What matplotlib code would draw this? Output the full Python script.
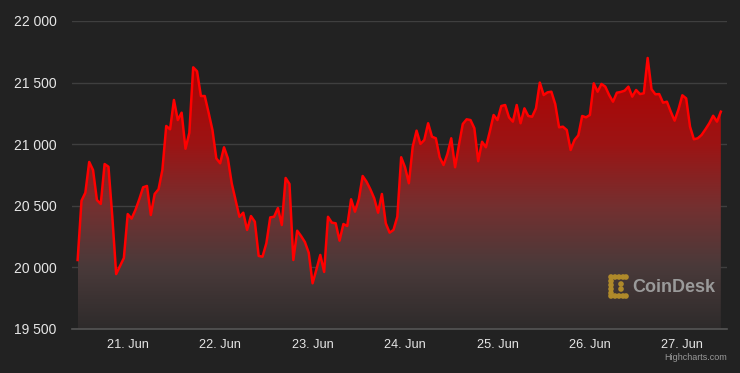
import numpy as np
import pandas as pd
import matplotlib
matplotlib.use("Agg")
import matplotlib.pyplot as plt
import matplotlib.dates as mdates
from matplotlib.colors import LinearSegmentedColormap
from matplotlib.patches import Circle

# hourly BTC price, 20 Jun 11:00 -> 27 Jun 10:00
start = "2022-06-20 11:00"
prices = [
    20060, 20541, 20606, 20856, 20790, 20547, 20515, 20839, 20817, 20411,
    19946, 20012, 20076, 20433, 20396, 20466, 20553, 20650, 20661, 20425,
    20596, 20634, 20791, 21148, 21121, 21359, 21196, 21256, 20963, 21093,
    21624, 21592, 21391, 21391, 21256, 21115, 20885, 20845, 20975, 20885,
    20683, 20547, 20411, 20444, 20304, 20417, 20371, 20093, 20087, 20196,
    20406, 20411, 20482, 20344, 20726, 20677, 20060, 20298, 20255, 20206,
    20119, 19871, 19984, 20101, 19963, 20411, 20363, 20358, 20217, 20352,
    20336, 20553, 20452, 20553, 20742, 20696, 20634, 20561, 20444, 20596,
    20358, 20282, 20304, 20411, 20894, 20813, 20683, 20980, 21110, 21002,
    21034, 21170, 21061, 21048, 20894, 20831, 20920, 21048, 20813, 20994,
    21164, 21202, 21196, 21130, 20862, 21020, 20975, 21101, 21237, 21196,
    21310, 21318, 21218, 21183, 21318, 21170, 21291, 21229, 21223, 21291,
    21500, 21399, 21421, 21426, 21326, 21137, 21142, 21115, 20953, 21034,
    21072, 21229, 21218, 21237, 21494, 21426, 21489, 21467, 21399, 21345,
    21418, 21424, 21434, 21467, 21386, 21440, 21407, 21413, 21700, 21446,
    21405, 21407, 21337, 21345, 21264, 21191, 21283, 21397, 21372, 21142,
    21040, 21048, 21075, 21121, 21170, 21231, 21183, 21264,
]
y_ticks = [19500, 20000, 20500, 21000, 21500, 22000]

BG = "#222222"
GRID = "#3f3f3f"
TXT = "#e6e6e6"

plt.rcParams["font.family"] = ["Liberation Sans", "DejaVu Sans"]

times = pd.date_range(start, periods=len(prices), freq="h")
x = mdates.date2num(times)
y = np.array(prices, dtype=float)

fig = plt.figure(figsize=(7.4, 3.73), dpi=100, facecolor=BG)
ax = fig.add_axes([72 / 740, 44 / 373, 655 / 740, 308 / 373])
ax.set_facecolor(BG)

x0 = mdates.date2num(pd.Timestamp("2022-06-20 09:32"))
x1 = mdates.date2num(pd.Timestamp("2022-06-27 11:36"))
ax.set_xlim(x0, x1)
ax.set_ylim(y_ticks[0], y_ticks[-1])

# gradient area fill, clipped to the area under the line
cmap = LinearSegmentedColormap.from_list("fade", [
    (0.00, "#2e2b2b"),
    (0.23, "#4a3a3a"),
    (0.45, "#743030"),
    (0.68, "#9c1414"),
    (1.00, "#b00000"),
])
grad = np.linspace(0, 1, 256).reshape(-1, 1)
im = ax.imshow(grad, cmap=cmap, origin="lower", aspect="auto",
               extent=[x[0], x[-1], y_ticks[0], y.max()], zorder=1)
poly = ax.fill_between(x, y, y_ticks[0], facecolor="none", edgecolor="none")
im.set_clip_path(poly.get_paths()[0], transform=ax.transData)

ax.plot(x, y, color="#ff0000", lw=1.8, zorder=3, solid_joinstyle="round")

ax.set_yticks(y_ticks)
ax.set_yticklabels([f"{v:,}".replace(",", " ") for v in y_ticks])
ax.grid(axis="y", color=GRID, lw=1, zorder=0)
ax.set_axisbelow(True)

ax.xaxis.set_major_locator(mdates.DayLocator())
ax.xaxis.set_major_formatter(mdates.DateFormatter("%d. %b"))
ax.tick_params(axis="both", length=0, colors=TXT)
ax.tick_params(axis="y", pad=11, labelsize=10)
ax.tick_params(axis="x", pad=7, labelsize=9.2)

for s in ["top", "right", "left"]:
    ax.spines[s].set_visible(False)
ax.spines["bottom"].set_color("#555555")
ax.spines["bottom"].set_linewidth(1.2)

# CoinDesk watermark: dotted bracket icon + word mark (pixel positions)
fig.text(632 / 740, 1 - 287 / 373, "CoinDesk", color="#9a9a9a", fontsize=13,
         fontweight="bold", ha="left", va="center", zorder=5)
dots = [(611, 277), (615, 277), (619, 277), (623, 277), (626, 277),
        (611, 281), (611, 285), (611, 289), (611, 293),
        (611, 296), (615, 296), (619, 296), (623, 296), (626, 296),
        (621, 284), (621, 289)]
for dx, dy in dots:
    fig.patches.append(Circle((dx / 100, (373 - dy) / 100), 0.021,
                              color="#b08a2a", transform=fig.dpi_scale_trans))

fig.text(727 / 740, 1 - 357 / 373, "Highcharts.com", color="#999999",
         fontsize=6.5, ha="right", va="center")

fig.savefig("out.png", dpi=100, facecolor=BG)
